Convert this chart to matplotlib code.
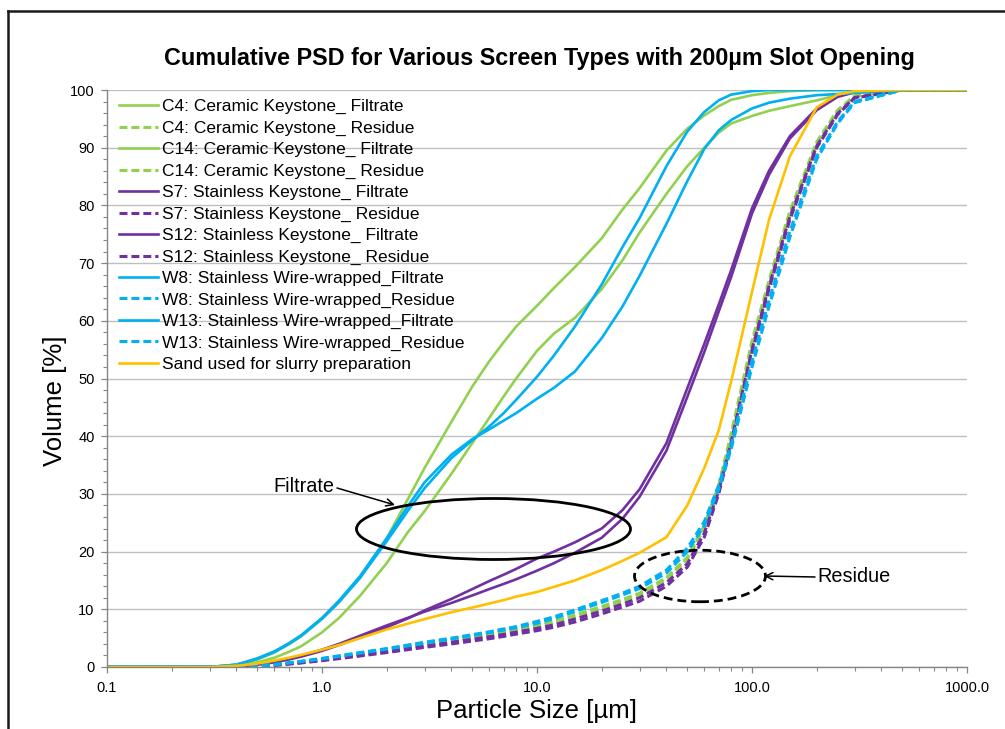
import matplotlib
matplotlib.use('Agg')
import matplotlib.pyplot as plt
from matplotlib.patches import Ellipse
from matplotlib.lines import Line2D
from matplotlib.ticker import LogLocator, NullFormatter, MultipleLocator

plt.rcParams['font.family'] = ['Liberation Sans', 'DejaVu Sans']

# ---------------- data ----------------
size_um = [0.1, 0.3, 0.4, 0.5, 0.6, 0.7, 0.8, 1.0, 1.2, 1.5, 2.0, 2.5, 3.0, 4.0, 5.0, 6.0, 7.0, 8.0,
           10, 12, 15, 20, 25, 30, 40, 50, 60, 70, 80, 100, 120, 150, 200, 250, 300, 500, 1000]

c4_filtrate = [0, 0, 0.4, 1.3, 2.5, 3.9, 5.3, 8.3, 11.2, 15.5, 22.3, 29.0, 34.5, 42.5, 48.6, 53.0, 56.3, 59.0,
               62.6, 65.7, 69.3, 74.3, 79.3, 83.0, 89.5, 93.3, 95.6, 97.2, 98.3, 99.1, 99.5, 99.8, 100, 100, 100, 100, 100]
c4_residue = [0, 0, 0.05, 0.2, 0.4, 0.65, 0.9, 1.35, 1.75, 2.3, 3.0, 3.5, 4.0, 4.7, 5.2, 5.7, 6.1, 6.5,
              7.2, 7.9, 9.0, 10.5, 11.7, 12.8, 15.5, 19.0, 24.5, 31.5, 40.5, 56.5, 67.0, 79.0, 91.0, 96.5, 99.0, 100, 100]
c14_filtrate = [0, 0, 0.2, 0.8, 1.6, 2.6, 3.6, 6.0, 8.5, 12.3, 18.0, 23.3, 27.0, 33.5, 38.8, 43.2, 46.9, 50.0,
                54.8, 57.8, 60.5, 65.5, 70.5, 75.3, 82.0, 86.8, 90.0, 92.6, 94.2, 95.5, 96.4, 97.2, 98.2, 99.1, 99.6, 100, 100]
c14_residue = [0, 0, 0.05, 0.2, 0.4, 0.62, 0.85, 1.3, 1.7, 2.2, 2.9, 3.4, 3.85, 4.5, 5.0, 5.5, 5.9, 6.3,
               7.0, 7.7, 8.7, 10.2, 11.4, 12.5, 15.2, 18.7, 24.0, 31.0, 40.0, 56.0, 66.5, 78.5, 90.8, 96.3, 98.9, 100, 100]
s7_filtrate = [0, 0, 0.1, 0.4, 0.8, 1.3, 1.8, 2.8, 3.8, 5.1, 6.9, 8.4, 9.8, 11.8, 13.5, 14.9, 16.0, 17.0,
               18.8, 20.0, 21.6, 24.0, 27.2, 30.8, 38.8, 48.3, 56.0, 62.8, 68.8, 79.5, 86.0, 92.0, 96.8, 99.0, 99.7, 100, 100]
s7_residue = [0, 0, 0.0, 0.1, 0.3, 0.5, 0.7, 1.1, 1.45, 1.9, 2.5, 3.0, 3.4, 4.0, 4.5, 4.9, 5.3, 5.7,
              6.3, 6.9, 7.8, 9.2, 10.4, 11.4, 14.0, 17.3, 22.5, 30.0, 38.5, 54.5, 65.5, 77.5, 90.0, 95.7, 98.6, 100, 100]
s12_filtrate = [0, 0, 0.1, 0.5, 0.9, 1.4, 1.9, 3.0, 4.0, 5.4, 7.2, 8.5, 9.6, 11.1, 12.4, 13.5, 14.4, 15.2,
                16.7, 18.0, 19.8, 22.4, 25.7, 29.5, 37.5, 46.8, 54.6, 61.6, 67.6, 78.6, 85.3, 91.6, 96.5, 98.8, 99.6, 100, 100]
s12_residue = [0, 0, 0.0, 0.1, 0.3, 0.55, 0.75, 1.2, 1.55, 2.05, 2.7, 3.2, 3.6, 4.3, 4.8, 5.25, 5.65, 6.05,
               6.7, 7.3, 8.3, 9.7, 10.9, 12.0, 14.6, 17.9, 23.2, 30.5, 39.0, 55.0, 66.0, 78.0, 90.3, 95.9, 98.7, 100, 100]
w8_filtrate = [0, 0, 0.4, 1.4, 2.6, 4.0, 5.4, 8.4, 11.3, 15.4, 21.8, 27.0, 31.0, 36.2, 39.3, 41.7, 44.0, 46.3,
               50.3, 54.0, 59.0, 66.3, 72.8, 77.8, 86.8, 92.8, 96.2, 98.2, 99.2, 99.8, 100, 100, 100, 100, 100, 100, 100]
w8_residue = [0, 0, 0.05, 0.2, 0.45, 0.75, 1.0, 1.5, 1.95, 2.5, 3.2, 3.8, 4.3, 5.0, 5.6, 6.1, 6.6, 7.0,
              7.9, 8.7, 9.9, 11.5, 12.8, 14.0, 16.8, 20.6, 25.2, 31.5, 38.5, 53.0, 63.5, 75.5, 88.5, 94.5, 98.0, 100, 100]
w13_filtrate = [0, 0, 0.4, 1.5, 2.7, 4.1, 5.5, 8.5, 11.5, 15.7, 22.3, 27.8, 32.0, 36.8, 39.5, 41.2, 42.7, 44.0,
                46.5, 48.4, 51.2, 57.0, 62.5, 67.8, 76.8, 84.2, 89.8, 93.0, 94.8, 96.8, 97.8, 98.5, 99.1, 99.3, 99.5, 100, 100]
w13_residue = [0, 0, 0.05, 0.2, 0.4, 0.7, 0.95, 1.4, 1.85, 2.4, 3.1, 3.65, 4.15, 4.85, 5.45, 5.95, 6.4, 6.8,
               7.6, 8.4, 9.6, 11.2, 12.5, 13.6, 16.3, 20.0, 24.5, 30.8, 37.8, 52.0, 62.5, 74.5, 88.0, 94.2, 97.8, 100, 100]
sand = [0, 0, 0.2, 0.6, 1.1, 1.6, 2.1, 3.0, 3.8, 5.0, 6.5, 7.5, 8.3, 9.5, 10.3, 11.0, 11.6, 12.2,
        13.0, 13.9, 15.0, 16.8, 18.4, 19.8, 22.5, 28.0, 34.5, 41.0, 49.5, 65.0, 77.5, 88.5, 97.0, 99.2, 99.8, 100, 100]

series_labels = [
    'C4: Ceramic Keystone_ Filtrate', 'C4: Ceramic Keystone_ Residue',
    'C14: Ceramic Keystone_ Filtrate', 'C14: Ceramic Keystone_ Residue',
    'S7: Stainless Keystone_ Filtrate', 'S7: Stainless Keystone_ Residue',
    'S12: Stainless Keystone_ Filtrate', 'S12: Stainless Keystone_ Residue',
    'W8: Stainless Wire-wrapped_Filtrate', 'W8: Stainless Wire-wrapped_Residue',
    'W13: Stainless Wire-wrapped_Filtrate', 'W13: Stainless Wire-wrapped_Residue',
    'Sand used for slurry preparation',
]
series_values = [c4_filtrate, c4_residue, c14_filtrate, c14_residue,
                 s7_filtrate, s7_residue, s12_filtrate, s12_residue,
                 w8_filtrate, w8_residue, w13_filtrate, w13_residue, sand]

x_tick_values = [0.1, 1, 10, 100, 1000]
x_tick_labels = ['0.1', '1.0', '10.0', '100.0', '1000.0']
y_tick_values = [0, 10, 20, 30, 40, 50, 60, 70, 80, 90, 100]

GREEN = '#92D050'
PURPLE = '#7030A0'
BLUE = '#00B0F0'
GOLD = '#FFC000'
series_colors = [GREEN, GREEN, GREEN, GREEN, PURPLE, PURPLE, PURPLE, PURPLE,
                 BLUE, BLUE, BLUE, BLUE, GOLD]
series_dashed = [False, True] * 6 + [False]

# ---------------- figure ----------------
W, H = 1005, 729
fig = plt.figure(figsize=(W / 100, H / 100), dpi=100)
fig.patch.set_facecolor('white')

ax_l, ax_r, ax_t, ax_b = 107, 967, 90, 667
ax = fig.add_axes([ax_l / W, 1 - ax_b / H, (ax_r - ax_l) / W, (ax_b - ax_t) / H])

for vals, lab, col, dsh in zip(series_values, series_labels, series_colors, series_dashed):
    if dsh:
        ax.plot(size_um, vals, color=col, lw=2.2, linestyle=(0, (2.6, 1.3)), label=lab,
                solid_capstyle='butt', dash_capstyle='butt')
    else:
        ax.plot(size_um, vals, color=col, lw=1.9, label=lab, solid_joinstyle='round')

ax.set_xscale('log')
ax.set_xlim(0.1, 1000)
ax.set_ylim(0, 100)
ax.set_xticks(x_tick_values)
ax.set_xticklabels(x_tick_labels)
ax.xaxis.set_minor_locator(LogLocator(base=10, subs=[2, 3, 4, 5, 6, 7, 8, 9], numticks=20))
ax.xaxis.set_minor_formatter(NullFormatter())
ax.set_yticks(y_tick_values)
ax.yaxis.set_minor_locator(MultipleLocator(2))

ax.tick_params(axis='both', which='major', labelsize=10.5, color='#868686', length=4, width=0.9,
               direction='out')
ax.tick_params(axis='both', which='minor', color='#868686', length=3, width=0.8, direction='out')
ax.tick_params(axis='x', which='major', pad=6)
ax.tick_params(axis='y', which='major', pad=5)

for s in ['top', 'right']:
    ax.spines[s].set_visible(False)
for s in ['left', 'bottom']:
    ax.spines[s].set_color('#868686')
    ax.spines[s].set_linewidth(1.0)

ax.yaxis.grid(True, which='major', color='#BFBFBF', lw=1.0)
ax.set_axisbelow(True)

leg = ax.legend(loc='upper left', bbox_to_anchor=((119 - ax_l) / (ax_r - ax_l), (ax_b - 99) / (ax_b - ax_t)),
                frameon=False, fontsize=12.5, borderpad=0, borderaxespad=0, labelspacing=0.357,
                handlelength=2.25, handletextpad=0.2)

# titles
fig.text(539 / W, 1 - 58 / H, 'Cumulative PSD for Various Screen Types with 200µm Slot Opening',
         ha='center', va='center', fontsize=16.8, fontweight='bold')
fig.text(537 / W, 1 - 711 / H, 'Particle Size [µm]', ha='center', va='center', fontsize=18.5)
fig.text(55 / W, 1 - 401 / H, 'Volume [%]', ha='center', va='center', fontsize=18.5, rotation=90)

# ellipses (annotation shapes, axes fraction)
def px_to_axes(xp, yp):
    return (xp - ax_l) / (ax_r - ax_l), (ax_b - yp) / (ax_b - ax_t)

cx, cy = px_to_axes(493.5, 529)
ax.add_patch(Ellipse((cx, cy), 274 / (ax_r - ax_l), 61 / (ax_b - ax_t), transform=ax.transAxes,
                     fill=False, ec='black', lw=2.0, clip_on=False, zorder=5))
cx, cy = px_to_axes(700, 576)
ax.add_patch(Ellipse((cx, cy), 131 / (ax_r - ax_l), 51.5 / (ax_b - ax_t), transform=ax.transAxes,
                     fill=False, ec='black', lw=2.0, linestyle=(0, (3.2, 1.8)), clip_on=False, zorder=5))

# annotation texts and arrows (figure pixels, origin bottom-left)
fig.text(273 / W, 1 - 486 / H, 'Filtrate', ha='left', va='center', fontsize=14.3)
fig.text(817 / W, 1 - 577 / H, 'Residue', ha='left', va='center', fontsize=14.3)
ax.annotate('', xy=(395, H - 505), xycoords='figure pixels', xytext=(337, H - 488),
            textcoords='figure pixels',
            arrowprops=dict(arrowstyle='->', lw=1.1, color='black', mutation_scale=13,
                            shrinkA=0, shrinkB=0))
ax.annotate('', xy=(764, H - 576), xycoords='figure pixels', xytext=(815, H - 577),
            textcoords='figure pixels',
            arrowprops=dict(arrowstyle='->', lw=1.1, color='black', mutation_scale=13,
                            shrinkA=0, shrinkB=0))

# outer frame (left and top edges visible)
fig.add_artist(Line2D([8 / W, 8 / W], [0, 1 - 11 / H], transform=fig.transFigure, color='#1a1a1a', lw=1.8))
fig.add_artist(Line2D([8 / W, 1], [1 - 11 / H, 1 - 11 / H], transform=fig.transFigure, color='#1a1a1a', lw=1.8))

fig.savefig('out.png', dpi=100, facecolor='white')
